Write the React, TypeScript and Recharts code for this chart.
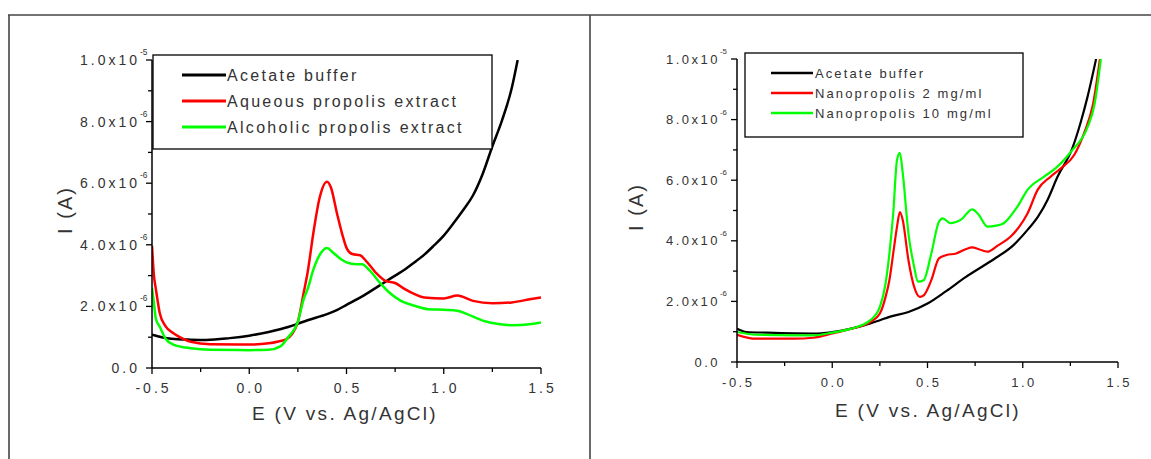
import React from 'react';
import { LineChart, Line, XAxis, YAxis } from 'recharts';

// ---------- shared axis ticks ----------
const xTicks = [-0.5, -0.25, 0, 0.25, 0.5, 0.75, 1.0, 1.25, 1.5];
const xTickLabels = ['-0.5', '', '0.0', '', '0.5', '', '1.0', '', '1.5'];
// current values in units of 1e-6 A
const yTicks = [0, 1, 2, 3, 4, 5, 6, 7, 8, 9, 10];
const yTickMantissa = ['0.0', '', '2.0x10', '', '4.0x10', '', '6.0x10', '', '8.0x10', '', '1.0x10'];
const yTickExponent = ['', '', '-6', '', '-6', '', '-6', '', '-6', '', '-5'];

const xAxisTitle = 'E (V vs. Ag/AgCl)';
const yAxisTitle = 'I (A)';

// ---------- left panel data (E in V, I in 1e-6 A) ----------
const leftNames = ['Acetate buffer', 'Aqueous propolis extract', 'Alcoholic propolis extract'];
const leftColors = ['#000000', '#ff0000', '#00ff00'];

const leftBufferE = [-0.5, -0.45, -0.4, -0.3, -0.22, -0.1, 0.0, 0.1, 0.2, 0.25, 0.3, 0.4, 0.45, 0.5, 0.6, 0.7, 0.75, 0.8, 0.85, 0.9, 0.95, 1.0, 1.05, 1.1, 1.15, 1.2, 1.25, 1.3, 1.35, 1.38];
const leftBufferI = [1.08, 1.0, 0.95, 0.92, 0.91, 0.97, 1.05, 1.17, 1.33, 1.44, 1.55, 1.75, 1.88, 2.05, 2.4, 2.8, 3.0, 3.2, 3.43, 3.68, 3.98, 4.3, 4.7, 5.13, 5.6, 6.3, 7.2, 8.05, 9.1, 10.0];

const leftAqueousE = [-0.5, -0.49, -0.48, -0.46, -0.43, -0.39, -0.35, -0.3, -0.2, 0.0, 0.1, 0.15, 0.19, 0.22, 0.25, 0.28, 0.3, 0.33, 0.36, 0.4, 0.42, 0.45, 0.48, 0.5, 0.53, 0.57, 0.6, 0.65, 0.7, 0.75, 0.8, 0.85, 0.9, 1.0, 1.07, 1.15, 1.25, 1.35, 1.45, 1.5];
const leftAqueousI = [3.97, 3.0, 2.56, 1.78, 1.35, 1.13, 0.98, 0.85, 0.77, 0.76, 0.8, 0.86, 0.93, 1.1, 1.5, 2.45, 3.1, 4.4, 5.48, 6.05, 5.86, 5.05, 4.3, 3.9, 3.7, 3.66, 3.48, 3.1, 2.83, 2.76, 2.56, 2.4, 2.29, 2.26, 2.35, 2.18, 2.1, 2.13, 2.24, 2.29];

const leftAlcoholicE = [-0.5, -0.49, -0.48, -0.46, -0.43, -0.39, -0.3, -0.2, 0.0, 0.1, 0.16, 0.2, 0.25, 0.28, 0.3, 0.33, 0.37, 0.4, 0.43, 0.47, 0.5, 0.55, 0.58, 0.62, 0.67, 0.72, 0.78, 0.85, 0.92, 1.0, 1.07, 1.12, 1.2, 1.28, 1.35, 1.45, 1.5];
const leftAlcoholicI = [2.6, 2.1, 1.6, 1.34, 0.95, 0.76, 0.64, 0.59, 0.58, 0.59, 0.7, 1.0, 1.5, 2.24, 2.56, 3.2, 3.75, 3.9, 3.75, 3.54, 3.43, 3.37, 3.37, 3.16, 2.78, 2.45, 2.18, 2.02, 1.91, 1.89, 1.86, 1.75, 1.54, 1.43, 1.39, 1.43, 1.48];

// ---------- right panel data ----------
const rightNames = ['Acetate buffer', 'Nanopropolis 2 mg/ml', 'Nanopropolis 10 mg/ml'];
const rightColors = ['#000000', '#ff0000', '#00ff00'];

const rightBufferE = [-0.5, -0.45, -0.35, -0.1, 0.0, 0.1, 0.2, 0.25, 0.3, 0.4, 0.5, 0.6, 0.7, 0.8, 0.85, 0.95, 1.025, 1.08, 1.13, 1.183, 1.26, 1.305, 1.34, 1.385];
const rightBufferI = [1.1, 0.99, 0.97, 0.94, 0.99, 1.1, 1.27, 1.38, 1.49, 1.65, 1.93, 2.35, 2.8, 3.2, 3.4, 3.85, 4.36, 4.8, 5.35, 6.12, 7.05, 7.93, 8.75, 10.0];

const rightLowE = [-0.5, -0.4, -0.2, -0.1, 0.0, 0.1, 0.2, 0.25, 0.28, 0.3, 0.32, 0.34, 0.355, 0.37, 0.4, 0.43, 0.46, 0.48, 0.52, 0.56, 0.6, 0.65, 0.7, 0.735, 0.77, 0.814, 0.87, 0.937, 0.98, 1.025, 1.078, 1.147, 1.2, 1.27, 1.325, 1.368, 1.405];
const rightLowI = [0.9, 0.77, 0.77, 0.8, 0.94, 1.1, 1.32, 1.6, 2.15, 2.7, 3.58, 4.47, 4.95, 4.69, 3.36, 2.48, 2.15, 2.2, 2.7, 3.42, 3.53, 3.58, 3.72, 3.78, 3.72, 3.64, 3.85, 4.14, 4.45, 4.9, 5.68, 6.12, 6.39, 6.83, 7.6, 8.48, 10.0];

const rightHighE = [-0.5, -0.4, -0.2, -0.1, 0.0, 0.1, 0.2, 0.25, 0.28, 0.3, 0.32, 0.34, 0.355, 0.37, 0.4, 0.43, 0.45, 0.48, 0.52, 0.56, 0.58, 0.62, 0.674, 0.735, 0.77, 0.814, 0.86, 0.9, 0.972, 1.025, 1.112, 1.17, 1.253, 1.34, 1.376, 1.41];
const rightHighI = [0.99, 0.9, 0.88, 0.88, 0.97, 1.1, 1.38, 1.82, 2.59, 3.58, 4.9, 6.67, 6.9, 6.23, 4.24, 3.14, 2.65, 2.7, 3.58, 4.63, 4.74, 4.58, 4.69, 5.04, 4.85, 4.47, 4.5, 4.58, 5.13, 5.68, 6.12, 6.38, 6.94, 7.75, 8.48, 10.0];

const zip = (e: number[], i: number[]) => e.map((v, k) => ({ e: v, i: i[k] }));

const leftSeries = [zip(leftBufferE, leftBufferI), zip(leftAqueousE, leftAqueousI), zip(leftAlcoholicE, leftAlcoholicI)];
const rightSeries = [zip(rightBufferE, rightBufferI), zip(rightLowE, rightLowI), zip(rightHighE, rightHighI)];

const FONT = '"Liberation Sans", Arial, Helvetica, sans-serif';
const TXT = '#333333';

type PanelCfg = {
  left: number;
  width: number;
  margin: { top: number; right: number; bottom: number; left: number };
  yAxisWidth: number;
  tickFont: number;
  tickSpacing: number;
  yLabelGap: number;
  strokeWidth: number;
};

function makeYTick(cfg: PanelCfg) {
  return (props: any) => {
    const { x, y, payload } = props;
    const idx = yTicks.findIndex((v) => Math.abs(v - payload.value) < 1e-9);
    const major = idx % 2 === 0;
    const mant = yTickMantissa[idx] || '';
    const exp = yTickExponent[idx] || '';
    const tx = x - cfg.yLabelGap;
    return (
      <g>
        <line x1={x - (major ? 6 : 4)} x2={x} y1={y} y2={y} stroke="#000" strokeWidth={1.3} />
        {major && (
          <text x={tx} y={y} dy="0.36em" textAnchor="end" fontSize={cfg.tickFont} letterSpacing={cfg.tickSpacing} fill={TXT} fontFamily={FONT}>
            {mant}
          </text>
        )}
        {major && exp && (
          <text x={tx} y={y - 5} textAnchor="start" fontSize={cfg.tickFont * 0.6} fill={TXT} fontFamily={FONT}>
            {exp}
          </text>
        )}
      </g>
    );
  };
}

function makeXTick(cfg: PanelCfg) {
  return (props: any) => {
    const { x, y, payload } = props;
    const idx = xTicks.findIndex((v) => Math.abs(v - payload.value) < 1e-9);
    const major = idx % 2 === 0;
    return (
      <g>
        <line x1={x} x2={x} y1={y} y2={y + (major ? 6 : 4)} stroke="#000" strokeWidth={1.3} />
        {major && (
          <text x={x + cfg.tickSpacing / 2} y={y + 20} dy="0.36em" textAnchor="middle" fontSize={cfg.tickFont} letterSpacing={cfg.tickSpacing} fill={TXT} fontFamily={FONT}>
            {xTickLabels[idx]}
          </text>
        )}
      </g>
    );
  };
}

function Panel({ cfg, series, colors, names }: { cfg: PanelCfg; series: { e: number; i: number }[][]; colors: string[]; names: string[] }) {
  return (
    <div style={{ position: 'absolute', left: cfg.left, top: 0 }}>
      <LineChart width={cfg.width} height={459} margin={cfg.margin}>
        <XAxis
          type="number"
          dataKey="e"
          domain={[-0.5, 1.5]}
          ticks={xTicks}
          interval={0}
          allowDataOverflow
          tickSize={0}
          tickMargin={0}
          height={30}
          axisLine={{ stroke: '#000', strokeWidth: 1.5 }}
          tickLine={false}
          tick={makeXTick(cfg)}
        />
        <YAxis
          type="number"
          dataKey="i"
          domain={[0, 10]}
          ticks={yTicks}
          interval={0}
          allowDataOverflow
          width={cfg.yAxisWidth}
          tickSize={0}
          tickMargin={0}
          axisLine={{ stroke: '#000', strokeWidth: 1.5 }}
          tickLine={false}
          tick={makeYTick(cfg)}
        />
        {series.map((d, k) => (
          <Line
            key={names[k]}
            data={d}
            dataKey="i"
            name={names[k]}
            type="monotone"
            stroke={colors[k]}
            strokeWidth={cfg.strokeWidth}
            dot={false}
            activeDot={false}
            isAnimationActive={false}
          />
        ))}
      </LineChart>
    </div>
  );
}

const leftCfg: PanelCfg = {
  left: 0,
  width: 600,
  margin: { top: 60, right: 59, bottom: 61, left: 62 },
  yAxisWidth: 90,
  tickFont: 14,
  tickSpacing: 3,
  yLabelGap: 12,
  strokeWidth: 2.5,
};

const rightCfg: PanelCfg = {
  left: 590,
  width: 561,
  margin: { top: 59, right: 33, bottom: 67, left: 57 },
  yAxisWidth: 90,
  tickFont: 13,
  tickSpacing: 2.5,
  yLabelGap: 17,
  strokeWidth: 2.2,
};

function Legend({ x, y, w, h, names, colors, lineX1, lineX2, textX, rowYs, fontSize, spacing, lw }: any) {
  return (
    <g>
      <rect x={x} y={y} width={w} height={h} fill="#fff" stroke="#000" strokeWidth={1.3} />
      {names.map((n: string, k: number) => (
        <g key={n}>
          <line x1={lineX1} x2={lineX2} y1={rowYs[k]} y2={rowYs[k]} stroke={colors[k]} strokeWidth={lw} />
          <text x={textX} y={rowYs[k]} dy="0.36em" fontSize={fontSize} letterSpacing={spacing} fill={TXT} fontFamily={FONT}>
            {n}
          </text>
        </g>
      ))}
    </g>
  );
}

export default function App() {
  return (
    <div style={{ position: 'absolute', left: 0, top: 0, width: 1151, height: 459, background: '#fff', overflow: 'hidden' }}>
      <Panel cfg={leftCfg} series={leftSeries} colors={leftColors} names={leftNames} />
      <Panel cfg={rightCfg} series={rightSeries} colors={rightColors} names={rightNames} />
      <svg width={1151} height={459} style={{ position: 'absolute', left: 0, top: 0, pointerEvents: 'none' }}>
        {/* frame */}
        <line x1={8} x2={1151} y1={15} y2={15} stroke="#444" strokeWidth={1.6} />
        <line x1={9} x2={9} y1={15} y2={459} stroke="#444" strokeWidth={1.6} />
        <line x1={590} x2={590} y1={15} y2={459} stroke="#444" strokeWidth={1.6} />

        {/* axis titles */}
        <text x={345} y={413} dy="0.36em" textAnchor="middle" fontSize={19} letterSpacing={2.3} fill={TXT} fontFamily={FONT}>{xAxisTitle}</text>
        <text x={928} y={410} dy="0.36em" textAnchor="middle" fontSize={19} letterSpacing={2.3} fill={TXT} fontFamily={FONT}>{xAxisTitle}</text>
        <text transform="translate(65,210) rotate(-90)" dy="0.36em" textAnchor="middle" fontSize={20} letterSpacing={2} fill={TXT} fontFamily={FONT}>{yAxisTitle}</text>
        <text transform="translate(636,207) rotate(-90)" dy="0.36em" textAnchor="middle" fontSize={20} letterSpacing={2} fill={TXT} fontFamily={FONT}>{yAxisTitle}</text>

        <Legend x={153} y={55} w={339} h={94} names={leftNames} colors={leftColors} lineX1={182} lineX2={226} textX={227} rowYs={[75, 101, 127]} fontSize={16} spacing={2.3} lw={3} />
        <Legend x={745} y={53} w={278} h={84} names={rightNames} colors={rightColors} lineX1={771} lineX2={813} textX={815} rowYs={[73, 93, 113]} fontSize={13} spacing={2.1} lw={2.5} />
      </svg>
    </div>
  );
}
